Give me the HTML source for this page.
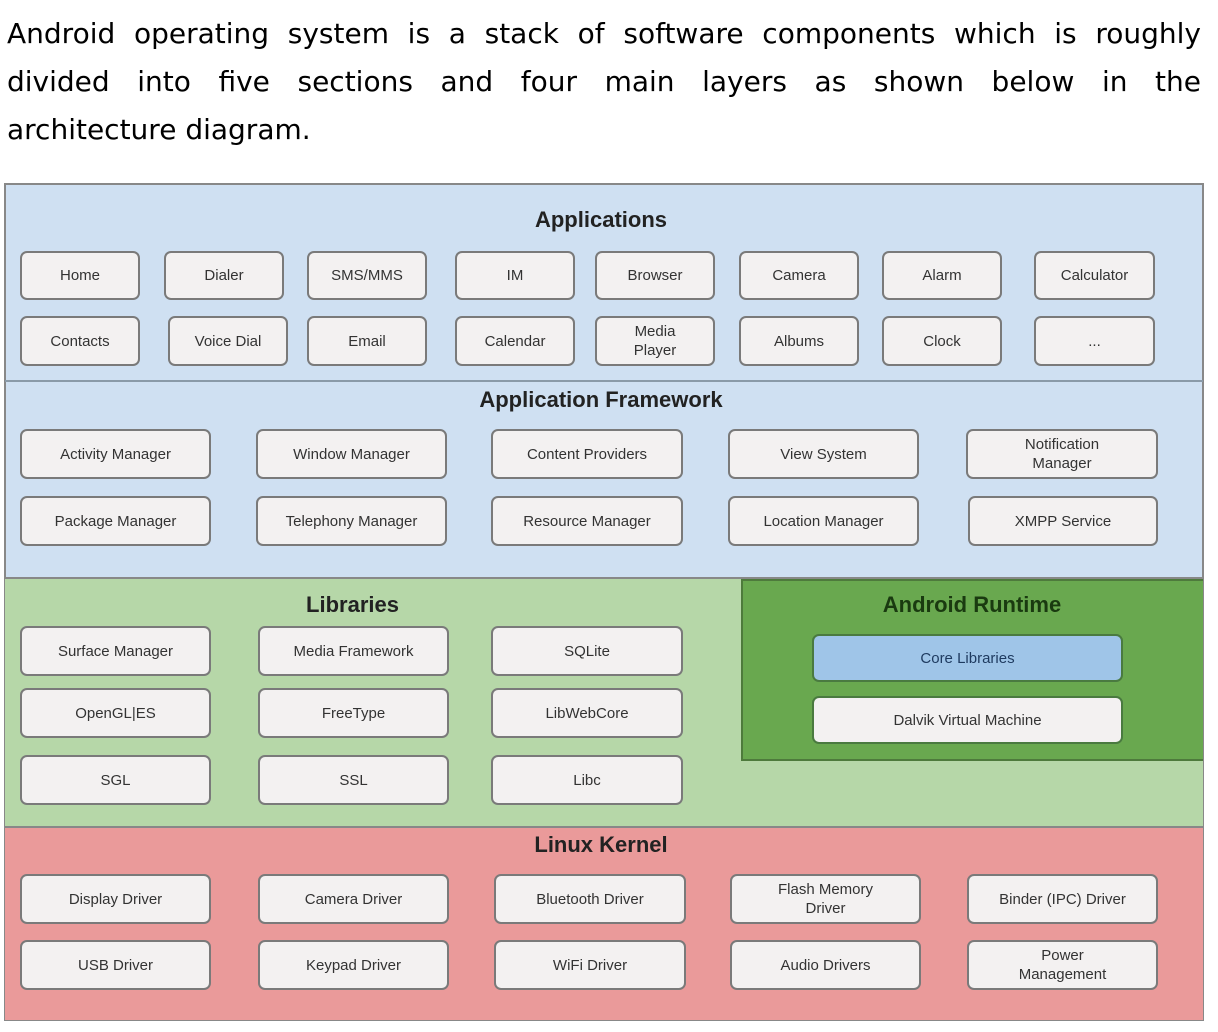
<!DOCTYPE html>
<html><head><meta charset="utf-8"><style>
body{margin:0;width:1218px;height:1032px;background:#fff;position:relative;overflow:hidden;font-family:"DejaVu Sans","Liberation Sans",sans-serif}
.l{position:absolute;left:7px;width:1194px;margin:0;font-size:28px;line-height:48px;text-align:justify;text-align-last:justify;color:#000;white-space:nowrap}
.s{position:absolute;box-sizing:border-box}
.b{position:absolute;box-sizing:border-box;background:#f3f1f1;border:2px solid #7a7a7a;border-radius:7px;display:flex;align-items:center;justify-content:center;text-align:center;font-size:15px;line-height:19px;color:#333;font-family:"Liberation Sans",sans-serif}
.h{position:absolute;font-weight:bold;font-size:22px;color:#222;font-family:"Liberation Sans",sans-serif;text-align:center}
</style></head><body>
<div class="l" style="top:10px;white-space:normal">Android operating system is a stack of software components which is roughly</div>
<div class="l" style="top:58px;white-space:normal">divided into five sections and four main layers as shown below in the</div>
<div class="l" style="top:106px;text-align:left;text-align-last:left">architecture diagram.</div>

<div class="s" style="left:4px;top:183px;width:1200px;height:838px;border:2px solid #888;background:#cfe0f2"></div>
<div class="s" style="left:5px;top:380px;width:1198px;height:2px;background:#8a9aa8"></div>
<div class="s" style="left:5px;top:577px;width:1198px;height:251px;background:#b6d7a8;border-top:2px solid #888;border-bottom:2px solid #888"></div>
<div class="s" style="left:5px;top:828px;width:1198px;height:192px;background:#ea9a9a"></div>
<div class="s" style="left:741px;top:579px;width:462px;height:182px;background:#69a84f;border:2px solid #4e7a3c;border-right:none"></div>

<div class="h" style="left:4px;top:207px;width:1194px">Applications</div>
<div class="h" style="left:4px;top:387px;width:1194px">Application Framework</div>
<div class="h" style="left:20px;top:592px;width:665px">Libraries</div>
<div class="h" style="left:741px;top:592px;width:462px;color:#1a3a10">Android Runtime</div>
<div class="h" style="left:4px;top:832px;width:1194px">Linux Kernel</div>

<div class="b" style="left:20px;top:251px;width:120px;height:49px">Home</div>
<div class="b" style="left:164px;top:251px;width:120px;height:49px">Dialer</div>
<div class="b" style="left:307px;top:251px;width:120px;height:49px">SMS/MMS</div>
<div class="b" style="left:455px;top:251px;width:120px;height:49px">IM</div>
<div class="b" style="left:595px;top:251px;width:120px;height:49px">Browser</div>
<div class="b" style="left:739px;top:251px;width:120px;height:49px">Camera</div>
<div class="b" style="left:882px;top:251px;width:120px;height:49px">Alarm</div>
<div class="b" style="left:1034px;top:251px;width:121px;height:49px">Calculator</div>
<div class="b" style="left:20px;top:316px;width:120px;height:50px">Contacts</div>
<div class="b" style="left:168px;top:316px;width:120px;height:50px">Voice Dial</div>
<div class="b" style="left:307px;top:316px;width:120px;height:50px">Email</div>
<div class="b" style="left:455px;top:316px;width:120px;height:50px">Calendar</div>
<div class="b" style="left:595px;top:316px;width:120px;height:50px">Media<br>Player</div>
<div class="b" style="left:739px;top:316px;width:120px;height:50px">Albums</div>
<div class="b" style="left:882px;top:316px;width:120px;height:50px">Clock</div>
<div class="b" style="left:1034px;top:316px;width:121px;height:50px">...</div>

<div class="b" style="left:20px;top:429px;width:191px;height:50px">Activity Manager</div>
<div class="b" style="left:256px;top:429px;width:191px;height:50px">Window Manager</div>
<div class="b" style="left:491px;top:429px;width:192px;height:50px">Content Providers</div>
<div class="b" style="left:728px;top:429px;width:191px;height:50px">View System</div>
<div class="b" style="left:966px;top:429px;width:192px;height:50px">Notification<br>Manager</div>
<div class="b" style="left:20px;top:496px;width:191px;height:50px">Package Manager</div>
<div class="b" style="left:256px;top:496px;width:191px;height:50px">Telephony Manager</div>
<div class="b" style="left:491px;top:496px;width:192px;height:50px">Resource Manager</div>
<div class="b" style="left:728px;top:496px;width:191px;height:50px">Location Manager</div>
<div class="b" style="left:968px;top:496px;width:190px;height:50px">XMPP Service</div>

<div class="b" style="left:20px;top:626px;width:191px;height:50px">Surface Manager</div>
<div class="b" style="left:258px;top:626px;width:191px;height:50px">Media Framework</div>
<div class="b" style="left:491px;top:626px;width:192px;height:50px">SQLite</div>
<div class="b" style="left:20px;top:688px;width:191px;height:50px">OpenGL|ES</div>
<div class="b" style="left:258px;top:688px;width:191px;height:50px">FreeType</div>
<div class="b" style="left:491px;top:688px;width:192px;height:50px">LibWebCore</div>
<div class="b" style="left:20px;top:755px;width:191px;height:50px">SGL</div>
<div class="b" style="left:258px;top:755px;width:191px;height:50px">SSL</div>
<div class="b" style="left:491px;top:755px;width:192px;height:50px">Libc</div>

<div class="b" style="left:812px;top:634px;width:311px;height:48px;background:#9fc5e8;border-color:#4a7a40;color:#1e3a5f">Core Libraries</div>
<div class="b" style="left:812px;top:696px;width:311px;height:48px;border-color:#4a7a40">Dalvik Virtual Machine</div>

<div class="b" style="left:20px;top:874px;width:191px;height:50px">Display Driver</div>
<div class="b" style="left:258px;top:874px;width:191px;height:50px">Camera Driver</div>
<div class="b" style="left:494px;top:874px;width:192px;height:50px">Bluetooth Driver</div>
<div class="b" style="left:730px;top:874px;width:191px;height:50px">Flash Memory<br>Driver</div>
<div class="b" style="left:967px;top:874px;width:191px;height:50px">Binder (IPC) Driver</div>
<div class="b" style="left:20px;top:940px;width:191px;height:50px">USB Driver</div>
<div class="b" style="left:258px;top:940px;width:191px;height:50px">Keypad Driver</div>
<div class="b" style="left:494px;top:940px;width:192px;height:50px">WiFi Driver</div>
<div class="b" style="left:730px;top:940px;width:191px;height:50px">Audio Drivers</div>
<div class="b" style="left:967px;top:940px;width:191px;height:50px">Power<br>Management</div>
</body></html>
